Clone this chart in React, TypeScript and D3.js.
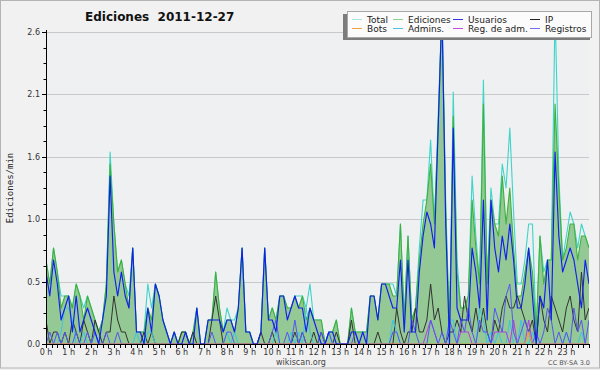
import React from 'react';
import * as d3 from 'd3';

// edits per minute, one value every 10 minutes (00:00 .. 24:00)
const total = [
  0.7, 0.5, 0.8, 0.6, 0.4, 0.4,  0.4, 0.3, 0.5, 0.4, 0.3, 0.4,
  0.3, 0.2, 0.1, 0.2, 0.5, 1.6,  1.0, 0.6, 0.7, 0.5, 0.4, 0.8,
  0.1, 0.1, 0.1, 0.5, 0.3, 0.5,  0.4, 0.2, 0.1, 0, 0.1, 0,
  0.1, 0.1, 0, 0.1, 0.3, 0,  0, 0.2, 0.2, 0.6, 0.3, 0.1,
  0.3, 0.2, 0.2, 0.3, 0.8, 0.1,  0.1, 0, 0, 0.1, 0.8, 0.2,
  0.3, 0.2, 0.4, 0.4, 0.3, 0.3,  0.4, 0.4, 0.4, 0.3, 0.5, 0.2,
  0.2, 0.2, 0, 0.1, 0.1, 0.2,  0, 0, 0, 0.3, 0.1, 0.1,
  0.1, 0.1, 0.4, 0.4, 0.2, 0.5,  0.5, 0.5, 0.5, 0.4, 1.0, 0.2,
  0.9, 0.2, 0.3, 0.8, 1.2, 1.2,  1.7, 1.0, 1.9, 2.8, 1.2, 0.1,
  2.1, 0.7, 0.3, 0.3, 0.4, 1.4,  0.9, 0.5, 2.2, 0.5, 1.3, 1.0,
  1.0, 1.5, 1.3, 1.8, 1.1, 0.5,  0.5, 0.7, 1.0, 1.0, 0.1, 0.9,
  0.6, 0.7, 0.7, 2.8, 1.4, 0.7,  0.9, 1.1, 1.0, 0.8, 1.0, 0.9,
  0.8,
];

const ediciones = [
  0.7, 0.5, 0.8, 0.6, 0.3, 0.4,  0.4, 0.3, 0.5, 0.4, 0.2, 0.4,
  0.3, 0.2, 0.1, 0.2, 0.5, 1.5,  1.0, 0.6, 0.7, 0.5, 0.3, 0.8,
  0.1, 0.1, 0.1, 0.3, 0.2, 0.5,  0.4, 0.2, 0.1, 0, 0.1, 0,
  0.1, 0.1, 0, 0.1, 0.3, 0,  0, 0.2, 0.2, 0.6, 0.3, 0.1,
  0.2, 0.2, 0.1, 0.3, 0.8, 0.1,  0.1, 0, 0, 0.1, 0.8, 0.2,
  0.3, 0.2, 0.4, 0.4, 0.3, 0.3,  0.4, 0.3, 0.4, 0.2, 0.3, 0.2,
  0.2, 0.2, 0, 0.1, 0.1, 0.2,  0, 0, 0, 0.3, 0.1, 0.1,
  0.1, 0.1, 0.4, 0.4, 0.2, 0.5,  0.5, 0.5, 0.4, 0.4, 1.0, 0.2,
  0.9, 0.2, 0.3, 0.7, 1.0, 1.2,  1.5, 1.0, 1.8, 2.8, 1.1, 0.1,
  1.9, 0.6, 0.3, 0.3, 0.4, 1.2,  0.8, 0.5, 2.0, 0.5, 1.2, 1.0,
  0.9, 1.4, 1.0, 1.3, 0.8, 0.4,  0.4, 0.6, 0.8, 0.6, 0.1, 0.9,
  0.5, 0.7, 0.7, 2.0, 1.3, 0.7,  0.8, 1.0, 1.0, 0.7, 0.9, 0.9,
  0.8,
];

const usuarios = [
  0.6, 0.4, 0.7, 0.5, 0.2, 0.3,  0.4, 0.1, 0.4, 0.1, 0.2, 0.3,
  0.2, 0.1, 0, 0.2, 0.4, 1.4,  0.6, 0.4, 0.6, 0.4, 0.3, 0.8,
  0.1, 0.1, 0, 0.3, 0.1, 0.5,  0.4, 0.2, 0.1, 0, 0.1, 0,
  0, 0.1, 0, 0, 0.3, 0,  0, 0.2, 0.2, 0.2, 0.2, 0.1,
  0.2, 0.2, 0.1, 0.3, 0.8, 0.1,  0.1, 0, 0, 0.1, 0.8, 0.2,
  0.2, 0.1, 0.4, 0.4, 0.2, 0.3,  0.4, 0.3, 0.3, 0.1, 0.3, 0.2,
  0.1, 0, 0, 0.1, 0.1, 0,  0, 0, 0, 0.1, 0.1, 0,
  0.1, 0, 0.4, 0.4, 0.2, 0.5,  0.5, 0.4, 0.3, 0.3, 0.7, 0.1,
  0.7, 0.1, 0.1, 0.6, 0.9, 1.1,  1.0, 0.8, 1.8, 2.8, 1.0, 0,
  1.8, 0.3, 0.2, 0.2, 0.2, 0.8,  0.6, 0.3, 1.2, 0.2, 1.2, 0.8,
  0.6, 0.9, 0.7, 1.0, 0.7, 0.3,  0.3, 0.5, 0.8, 0.4, 0, 0.4,
  0.3, 0.7, 0.2, 1.6, 0.9, 0.6,  0.7, 0.8, 0.7, 0.5, 0.3, 0.7,
  0.5,
];

const ip = [
  0.2, 0, 0.1, 0.1, 0, 0.1,  0, 0.2, 0.1, 0, 0.2, 0.1,
  0, 0.2, 0.1, 0, 0.1, 0.1,  0.4, 0.2, 0.1, 0.1, 0, 0,
  0, 0, 0.1, 0, 0.1, 0,  0, 0, 0, 0, 0, 0,
  0.1, 0.1, 0, 0.1, 0, 0,  0, 0, 0.2, 0.4, 0.2, 0,
  0, 0, 0, 0, 0, 0,  0, 0, 0, 0.1, 0, 0,
  0.1, 0, 0, 0, 0, 0,  0.1, 0, 0.1, 0, 0, 0.1,
  0, 0.1, 0, 0, 0, 0.1,  0, 0, 0, 0.2, 0, 0,
  0, 0, 0, 0, 0.1, 0,  0, 0, 0, 0.3, 0.1, 0,
  0.1, 0.1, 0.3, 0.1, 0.1, 0.2,  0.5, 0.2, 0.3, 0.1, 0, 0.1,
  0.1, 0.2, 0.1, 0.4, 0.2, 0.1,  0.3, 0.1, 0.3, 0.1, 0, 0.2,
  0.1, 0.3, 0.4, 0.3, 0.3, 0.4,  0.3, 0.2, 0.1, 0.2, 0, 0.4,
  0.2, 0.1, 0.4, 0.3, 0.2, 0.1,  0.3, 0.4, 0.2, 0.1, 0.6, 0.2,
  0.3,
];

const bots = [
  0, 0, 0, 0, 0, 0,  0, 0, 0, 0, 0, 0,
  0, 0, 0, 0, 0, 0,  0, 0, 0, 0, 0, 0,
  0, 0, 0, 0, 0, 0,  0, 0, 0, 0, 0, 0,
  0, 0, 0, 0, 0, 0,  0, 0, 0, 0, 0, 0,
  0, 0, 0, 0, 0, 0,  0, 0, 0, 0, 0, 0,
  0, 0, 0, 0, 0, 0,  0, 0, 0, 0, 0, 0,
  0, 0, 0, 0, 0, 0,  0, 0, 0, 0, 0, 0,
  0, 0, 0, 0, 0, 0,  0, 0, 0, 0, 0, 0,
  0, 0, 0, 0, 0, 0,  0, 0, 0, 0, 0, 0,
  0, 0, 0, 0, 0, 0,  0, 0, 0, 0, 0, 0,
  0, 0, 0, 0, 0, 0,  0, 0, 0.1, 0, 0, 0,
  0, 0, 0, 0, 0, 0,  0, 0, 0, 0, 0, 0,
  0,
];

const admins = [
  0, 0, 0, 0, 0.1, 0.3,  0.3, 0.2, 0, 0, 0.1, 0,
  0, 0.1, 0, 0, 0, 0,  0, 0, 0, 0, 0, 0,
  0.1, 0, 0, 0.1, 0.1, 0,  0, 0, 0, 0, 0, 0,
  0, 0, 0, 0, 0, 0,  0, 0, 0, 0, 0, 0,
  0.1, 0, 0.1, 0, 0, 0,  0, 0, 0, 0, 0, 0,
  0, 0.1, 0, 0, 0, 0.1,  0, 0.1, 0, 0.3, 0.1, 0,
  0, 0, 0, 0.1, 0, 0,  0, 0, 0, 0, 0, 0,
  0, 0, 0, 0, 0, 0,  0, 0, 0.2, 0.1, 0, 0,
  0, 0, 0, 0, 0, 0,  0, 0, 0, 0, 0, 0.2,
  0.2, 0, 0, 0, 0, 0,  0, 0.3, 0.2, 0, 0.1, 0,
  0.1, 0, 0, 0.2, 0, 0,  0.2, 0, 0, 0.1, 0, 0,
  0, 0, 0, 0, 0, 0,  0.1, 0, 0, 0, 0.1, 0,
  0,
];

const regAdm = [
  0, 0, 0, 0, 0, 0,  0, 0, 0, 0, 0, 0,
  0, 0, 0, 0, 0, 0,  0, 0, 0, 0, 0, 0,
  0, 0, 0, 0, 0, 0,  0, 0, 0, 0, 0, 0,
  0, 0, 0, 0, 0, 0,  0, 0, 0, 0, 0, 0,
  0, 0, 0, 0, 0, 0,  0, 0, 0, 0, 0, 0,
  0, 0, 0, 0, 0, 0,  0, 0, 0, 0, 0, 0,
  0, 0, 0, 0, 0, 0,  0, 0, 0, 0, 0, 0,
  0, 0, 0, 0, 0, 0,  0, 0, 0, 0, 0, 0,
  0, 0, 0, 0, 0, 0.1,  0.2, 0.1, 0, 0, 0, 0,
  0, 0, 0.1, 0.1, 0.1, 0,  0, 0, 0, 0, 0, 0.1,
  0.1, 0.1, 0.1, 0, 0.2, 0,  0, 0, 0.2, 0, 0, 0,
  0, 0, 0, 0, 0, 0,  0, 0, 0, 0, 0, 0,
  0,
];

const registros = [
  0, 0.1, 0, 0.1, 0, 0.1,  0, 0, 0.1, 0, 0, 0.1,
  0, 0.1, 0, 0, 0.1, 0,  0, 0.1, 0, 0, 0, 0,
  0, 0, 0, 0, 0, 0,  0, 0, 0, 0, 0, 0,
  0, 0, 0, 0, 0, 0,  0, 0, 0.1, 0, 0, 0,
  0.1, 0.1, 0, 0, 0, 0,  0, 0, 0, 0, 0, 0,
  0.1, 0.2, 0, 0, 0.1, 0,  0.2, 0, 0.1, 0, 0, 0,
  0, 0.1, 0, 0.1, 0, 0,  0, 0, 0, 0, 0.1, 0,
  0, 0, 0, 0, 0, 0,  0, 0, 0.1, 0.1, 0, 0,
  0, 0.2, 0.1, 0, 0, 0,  0.2, 0.1, 0, 0.1, 0, 0.2,
  0.1, 0, 0.2, 0.1, 0.3, 0.1,  0, 0.2, 0.1, 0.1, 0, 0.3,
  0.2, 0.1, 0.4, 0.5, 0.1, 0,  0.1, 0.2, 0.1, 0, 0.1, 0,
  0.1, 0.3, 0.2, 0, 0.1, 0,  0.1, 0, 0.3, 0.1, 0.2, 0,
  0.2,
];

const hourLabels = [
  '0 h', '1 h', '2 h', '3 h', '4 h', '5 h', '6 h', '7 h', '8 h', '9 h', '10 h', '11 h',
  '12 h', '13 h', '14 h', '15 h', '16 h', '17 h', '18 h', '19 h', '20 h', '21 h', '22 h', '23 h',
];
const yTicks = [0, 0.52, 1.04, 1.56, 2.08, 2.6];

const legendNames = ['Total', 'Ediciones', 'Usuarios', 'IP', 'Bots', 'Admins.', 'Reg. de adm.', 'Registros'];
const legendColors = ['#a6e6de', '#8fd08f', '#3535e6', '#222222', '#f0a040', '#4cc6e4', '#c24ee0', '#7070f0'];

const sans = 'DejaVu Sans, sans-serif';

export default function App() {
  const x = d3.scaleLinear().domain([0, 24]).range([46, 589]);
  const y = d3.scaleLinear().domain([0, 2.6]).range([344, 32]);
  const fmt = d3.format('.1f');

  const line = d3.line<number>().x((_, i) => x(i / 6)).y((d) => y(d));
  const area = d3.area<number>().x((_, i) => x(i / 6)).y0(y(0)).y1((d) => y(d));

  const minorY = d3.range(0, 21).map((k) => (2.6 / 20) * k);
  const minorX = d3.range(0, 97).map((k) => k / 4);

  const series: [number[], string, number][] = [
    [ip, '#333333', 1],
    [admins, '#3cc4e6', 1],
    [regAdm, '#b83ce0', 1],
    [registros, '#5656f2', 1],
    [bots, '#f0a030', 1],
    [usuarios, '#1020ee', 1.15],
  ];

  return (
    <svg width={600} height={370} style={{ position: 'absolute', left: 0, top: 0 }}>
      <defs>
        <clipPath id="plot">
          <rect x={46} y={28} width={543} height={316} />
        </clipPath>
      </defs>
      <rect x={0} y={0} width={600} height={370} fill="#f1f1f1" />
      <rect x={0.5} y={0.5} width={599} height={367.5} fill="none" stroke="#b4b4b4" />
      <rect x={46} y={32} width={543} height={312} fill="#eef0f2" />

      {yTicks.slice(1).map((t) => (
        <line key={t} x1={46} x2={589} y1={Math.round(y(t)) + 0.5} y2={Math.round(y(t)) + 0.5} stroke="#c9c9c9" />
      ))}

      <g clipPath="url(#plot)" fill="none" strokeLinejoin="round">
        <path d={line(total) || ''} stroke="#3ed4c8" strokeWidth={1.1} />
        <path d={area(ediciones) || ''} fill="#94c894" stroke="none" />
        <path d={line(ediciones) || ''} stroke="#3cb23c" strokeWidth={1.1} />
        {series.map(([vals, color, w], k) => (
          <path key={k} d={line(vals) || ''} stroke={color} strokeWidth={w} />
        ))}
      </g>

      {/* axes */}
      <line x1={46.5} x2={46.5} y1={30} y2={345} stroke="#000" />
      <line x1={45} x2={590} y1={344.5} y2={344.5} stroke="#000" />
      {minorY.map((t, k) => (
        <line key={k} x1={k % 4 === 0 ? 42 : 43.5} x2={46} y1={Math.round(y(t)) + 0.5} y2={Math.round(y(t)) + 0.5} stroke="#000" />
      ))}
      {minorX.map((t, k) => (
        <line key={k} x1={Math.round(x(t)) + 0.5} x2={Math.round(x(t)) + 0.5} y1={345} y2={348} stroke="#000" />
      ))}
      {yTicks.map((t) => (
        <text key={t} x={40} y={y(t) + 3} textAnchor="end" fontFamily={sans} fontSize={8} fill="#333">
          {fmt(t)}
        </text>
      ))}
      {hourLabels.map((h, k) => (
        <text key={h} x={x(k)} y={355} textAnchor="middle" fontFamily={sans} fontSize={8} fill="#333">
          {h}
        </text>
      ))}

      <text transform="translate(13,188) rotate(-90)" textAnchor="middle" fontFamily="DejaVu Sans Mono, monospace" fontSize={9} fill="#222">
        Ediciones/min
      </text>
      <text x={85} y={21} fontFamily={sans} fontWeight="bold" fontSize={12} fill="#111" style={{ whiteSpace: 'pre' }}>
        {'Ediciones  2011-12-27'}
      </text>
      <text x={301} y={365} textAnchor="middle" fontFamily={sans} fontSize={8} fill="#444">
        wikiscan.org
      </text>
      <text x={590} y={365} textAnchor="end" fontFamily={sans} fontSize={6.5} fill="#555">
        CC BY-SA 3.0
      </text>

      {/* legend */}
      <rect x={343} y={14} width={247} height={26} fill="#7c7c7c" />
      <rect x={347.5} y={11.5} width={244} height={26} fill="#fbfbfb" stroke="#a8a8a8" />
      {legendNames.map((name, k) => {
        const col = k % 4;
        const row = Math.floor(k / 4);
        const sx = [352, 393, 453, 530][col];
        const ly = 20 + row * 9;
        return (
          <g key={name}>
            <line x1={sx} x2={sx + 10} y1={ly - 0.5} y2={ly - 0.5} stroke={legendColors[k]} strokeWidth={1} />
            <text x={sx + 15} y={ly + 3} fontFamily={sans} fontSize={9} fill="#222">
              {name}
            </text>
          </g>
        );
      })}
    </svg>
  );
}
